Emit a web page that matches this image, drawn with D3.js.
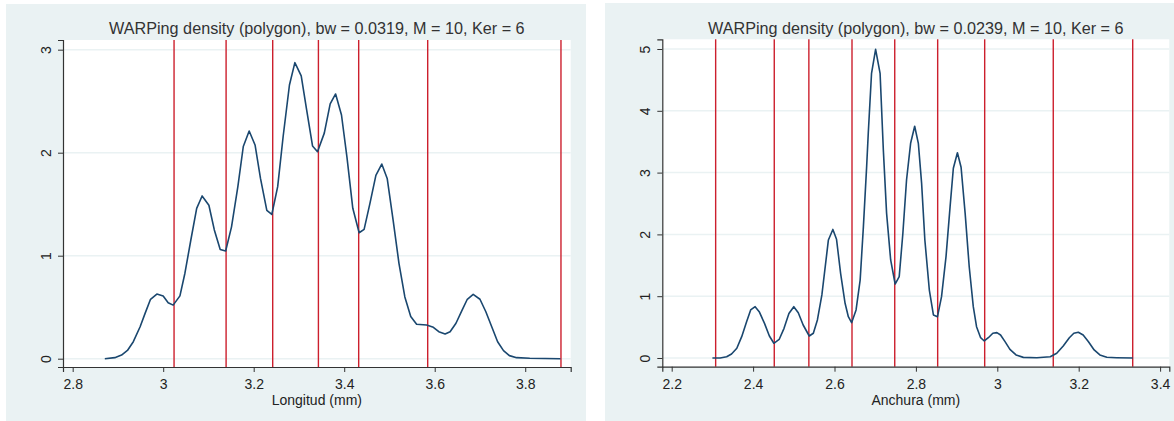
<!DOCTYPE html>
<html>
<head>
<meta charset="utf-8">
<script src="https://cdn.jsdelivr.net/npm/d3@7"></script>
<style>
  body { margin: 0; background: #fff; }
  svg { display: block; font-family: "Liberation Sans", Arial, Helvetica, sans-serif; }
</style>
</head>
<body>
<svg width="1174" height="421"></svg>
<script>
// Longitud (mm) density polygon
const longX = [2.871, 2.893, 2.908, 2.921, 2.934, 2.949, 2.960, 2.972, 2.986, 3.000, 3.011, 3.022,
  3.037, 3.048, 3.061, 3.074, 3.086, 3.101, 3.113, 3.126, 3.138, 3.151, 3.165, 3.177, 3.190, 3.203,
  3.215, 3.229, 3.240, 3.253, 3.265, 3.279, 3.291, 3.305, 3.317, 3.330, 3.341, 3.356, 3.369, 3.381,
  3.394, 3.406, 3.419, 3.433, 3.444, 3.457, 3.470, 3.483, 3.495, 3.508, 3.521, 3.534, 3.547, 3.560,
  3.582, 3.597, 3.609, 3.623, 3.634, 3.647, 3.660, 3.672, 3.685, 3.700, 3.713, 3.726, 3.739, 3.752,
  3.765, 3.781, 3.810, 3.878];
const longY = [0, 0.01, 0.035, 0.08, 0.165, 0.31, 0.44, 0.577, 0.628, 0.609, 0.544, 0.52,
  0.61, 0.83, 1.15, 1.46, 1.58, 1.49, 1.25, 1.06, 1.045, 1.28, 1.67, 2.06, 2.21, 2.075,
  1.75, 1.44, 1.40, 1.67, 2.155, 2.657, 2.874, 2.745, 2.415, 2.065, 2.01, 2.19, 2.473, 2.57,
  2.366, 1.96, 1.46, 1.223, 1.256, 1.51, 1.78, 1.89, 1.75, 1.347, 0.926, 0.60, 0.41, 0.334,
  0.327, 0.305, 0.262, 0.24, 0.262, 0.344, 0.466, 0.577, 0.625, 0.577, 0.456, 0.31, 0.165, 0.078,
  0.03, 0.01, 0.004, 0];
const longLines = [3.024, 3.139, 3.242, 3.343, 3.432, 3.5845, 3.879];

// Anchura (mm) density polygon
const anchX = [2.300, 2.319, 2.335, 2.347, 2.360, 2.372, 2.384, 2.394, 2.405, 2.415, 2.428, 2.440,
  2.451, 2.464, 2.476, 2.488, 2.500, 2.511, 2.523, 2.538, 2.548, 2.558, 2.569, 2.585, 2.596, 2.605,
  2.615, 2.626, 2.634, 2.642, 2.653, 2.663, 2.671, 2.679, 2.683, 2.691, 2.701, 2.712, 2.720, 2.728,
  2.738, 2.749, 2.759, 2.768, 2.777, 2.787, 2.797, 2.806, 2.814, 2.822, 2.833, 2.843, 2.853, 2.863,
  2.874, 2.884, 2.892, 2.902, 2.911, 2.921, 2.931, 2.941, 2.949, 2.959, 2.968, 2.978, 2.989, 2.999,
  3.008, 3.019, 3.031, 3.046, 3.064, 3.097, 3.130, 3.146, 3.162, 3.177, 3.188, 3.199, 3.211, 3.224,
  3.238, 3.252, 3.269, 3.293, 3.333];
const anchY = [0, 0, 0.02, 0.065, 0.157, 0.345, 0.587, 0.777, 0.83, 0.75, 0.56, 0.356,
  0.238, 0.30, 0.48, 0.72, 0.83, 0.733, 0.534, 0.356, 0.40, 0.615, 1.02, 1.91, 2.08, 1.92,
  1.37, 0.885, 0.668, 0.571, 0.777, 1.26, 2.125, 3.1, 3.64, 4.607, 4.995, 4.607, 3.366, 2.34,
  1.586, 1.197, 1.316, 2.018, 2.88, 3.474, 3.75, 3.474, 2.83, 1.91, 1.10, 0.696, 0.668, 0.992,
  1.64, 2.45, 3.07, 3.32, 3.086, 2.34, 1.477, 0.83, 0.506, 0.328, 0.275, 0.328, 0.40, 0.41,
  0.372, 0.264, 0.14, 0.05, 0.01, 0.005, 0.02, 0.076, 0.194, 0.328, 0.40, 0.416, 0.372, 0.264,
  0.13, 0.049, 0.011, 0.005, 0];
const anchLines = [2.308, 2.452, 2.537, 2.643, 2.748, 2.8535, 2.969, 3.1375, 3.3327];

const longXTicks = [2.8, 3, 3.2, 3.4, 3.6, 3.8];
const longYTicks = [0, 1, 2, 3];
const anchXTicks = [2.2, 2.4, 2.6, 2.8, 3, 3.2, 3.4];
const anchYTicks = [0, 1, 2, 3, 4, 5];

const panels = [
  { title: "WARPing density (polygon), bw = 0.0319, M = 10, Ker = 6", xlab: "Longitud (mm)",
    xs: longX, ys: longY, lines: longLines, xticks: longXTicks, yticks: longYTicks,
    box: [6, 4, 580, 417], plot: [63, 40, 570.7, 367], xdom: [2.7786, 3.9005], ydom: [-0.0806, 3.094] },
  { title: "WARPing density (polygon), bw = 0.0239, M = 10, Ker = 6", xlab: "Anchura (mm)",
    xs: anchX, ys: anchY, lines: anchLines, xticks: anchXTicks, yticks: anchYTicks,
    box: [605, 3, 569, 418], plot: [662.3, 39.3, 1169.3, 366.7], xdom: [2.1769, 3.4226], ydom: [-0.141, 5.157] }
];

const svg = d3.select("svg");
const fmt = d3.format("~g");

panels.forEach(function (p) {
  const g = svg.append("g");
  const [l, t, r, b] = p.plot;

  g.append("rect")
    .attr("x", p.box[0]).attr("y", p.box[1])
    .attr("width", p.box[2]).attr("height", p.box[3])
    .attr("fill", "#eaf2f3");

  g.append("rect")
    .attr("x", l).attr("y", t)
    .attr("width", r - l).attr("height", b - t)
    .attr("fill", "#fff");

  const x = d3.scaleLinear().domain(p.xdom).range([l, r]);
  const y = d3.scaleLinear().domain(p.ydom).range([b, t]);

  // horizontal grid
  g.append("g").selectAll("line")
    .data(p.yticks)
    .enter().append("line")
    .attr("x1", l).attr("x2", r)
    .attr("y1", function (d) { return y(d); })
    .attr("y2", function (d) { return y(d); })
    .attr("stroke", "#eaf2f3")
    .attr("stroke-width", 1.5);

  // red reference lines
  g.append("g").selectAll("line")
    .data(p.lines)
    .enter().append("line")
    .attr("x1", function (d) { return x(d); })
    .attr("x2", function (d) { return x(d); })
    .attr("y1", t).attr("y2", b)
    .attr("stroke", "#cc1f2d")
    .attr("stroke-width", 1.4);

  const pts = p.xs.map(function (v, i) { return [v, p.ys[i]]; });
  g.append("path")
    .datum(pts)
    .attr("fill", "none")
    .attr("stroke", "#1a476f")
    .attr("stroke-width", 1.6)
    .attr("stroke-linejoin", "round")
    .attr("d", d3.line().x(function (d) { return x(d[0]); }).y(function (d) { return y(d[1]); }));

  // axes
  const xAxis = g.append("g")
    .attr("transform", "translate(0," + b + ")")
    .call(d3.axisBottom(x).tickValues(p.xticks).tickFormat(fmt).tickSize(5).tickPadding(4));
  const yAxis = g.append("g")
    .attr("transform", "translate(" + l + ",0)")
    .call(d3.axisLeft(y).tickValues(p.yticks).tickFormat(fmt).tickSize(5).tickPadding(4));

  [xAxis, yAxis].forEach(function (a) {
    a.select(".domain").attr("stroke", "#333").attr("stroke-width", 1.2);
    a.selectAll(".tick line").attr("stroke", "#333").attr("stroke-width", 1);
    a.selectAll("text").attr("fill", "#222").style("font-size", "14px")
      .style("font-family", "'Liberation Sans', Arial, sans-serif");
  });
  xAxis.selectAll("text").attr("dy", "0.95em");

  yAxis.selectAll(".tick text")
    .attr("x", null).attr("dy", null)
    .attr("text-anchor", "middle")
    .attr("transform", "translate(-16,0) rotate(-90)")
    .attr("y", 0)
    .attr("dominant-baseline", "middle");

  g.append("text")
    .attr("x", (l + r) / 2).attr("y", 34)
    .attr("text-anchor", "middle")
    .attr("fill", "#333")
    .style("font-size", "16.2px")
    .text(p.title);

  g.append("text")
    .attr("x", (l + r) / 2).attr("y", 405)
    .attr("text-anchor", "middle")
    .attr("fill", "#222")
    .style("font-size", "14px")
    .text(p.xlab);
});
</script>
</body>
</html>
